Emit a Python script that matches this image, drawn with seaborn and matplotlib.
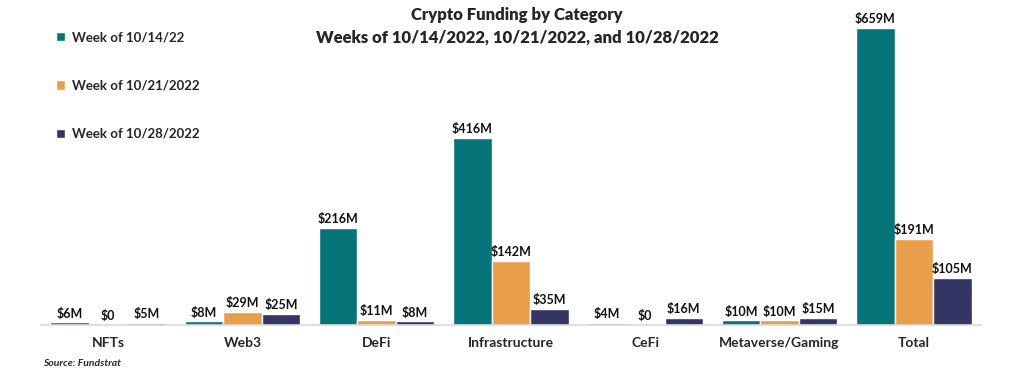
import pandas as pd
import matplotlib
matplotlib.use("Agg")
import matplotlib.pyplot as plt
import seaborn as sns

categories = ["NFTs", "Web3", "DeFi", "Infrastructure", "CeFi", "Metaverse/Gaming", "Total"]
weeks = ["Week of 10/14/22", "Week of 10/21/2022", "Week of 10/28/2022"]
week1 = [6, 8, 216, 416, 4, 10, 659]
week2 = [0, 29, 11, 142, 0, 10, 191]
week3 = [5, 25, 8, 35, 16, 15, 105]
colors = ["#077479", "#E89E4A", "#343465"]

rows = []
for w, vals in zip(weeks, [week1, week2, week3]):
    for c, v in zip(categories, vals):
        rows.append({"Category": c, "Week": w, "Value": v})
df = pd.DataFrame(rows)

sns.set_style("white")
plt.rcParams["font.family"] = ["Lato", "DejaVu Sans"]

fig = plt.figure(figsize=(10.24, 3.79), dpi=100)
ax = fig.add_axes([0.04, 0.1425, 0.918, 0.8085])

sns.barplot(data=df, x="Category", y="Value", hue="Week", palette=colors,
            width=0.86, gap=0, saturation=1, ax=ax, legend=True)

for cont in ax.containers:
    labels = ["$0" if v == 0 else f"${int(v)}M" for v in cont.datavalues]
    ax.bar_label(cont, labels=labels, padding=2, fontsize=9, fontweight="bold",
                 color="#111111")

ax.set_ylim(0, 680)
ax.set_xlim(-0.5, len(categories) - 0.5)
ax.set_yticks([])
ax.set_xlabel("")
ax.set_ylabel("")
ax.tick_params(axis="x", length=0, pad=9)
for lab in ax.get_xticklabels():
    lab.set_fontweight("bold")
    lab.set_fontsize(10)
for s in ["top", "left", "right"]:
    ax.spines[s].set_visible(False)
ax.spines["bottom"].set_color("#D9D9D9")
ax.spines["bottom"].set_linewidth(1.2)

leg = ax.legend(loc="upper left", bbox_to_anchor=(0.048, 0.935),
                bbox_transform=fig.transFigure, frameon=False,
                fontsize=9.5, labelspacing=2.75, handlelength=0.7, handleheight=0.7,
                handletextpad=0.5, borderpad=0)
for t in leg.get_texts():
    t.set_fontweight("bold")

fig.text(0.505, 0.96, "Crypto Funding by Category", ha="center", va="center",
         fontsize=12, fontweight="heavy")
fig.text(0.505, 0.90, "Weeks of 10/14/2022, 10/21/2022, and 10/28/2022", ha="center",
         va="center", fontsize=12, fontweight="heavy")
fig.text(0.042, 0.04, "Source: Fundstrat", ha="left", va="center", fontsize=7.5,
         fontweight="bold", style="italic")

fig.savefig("out.png", dpi=100, facecolor="white")
